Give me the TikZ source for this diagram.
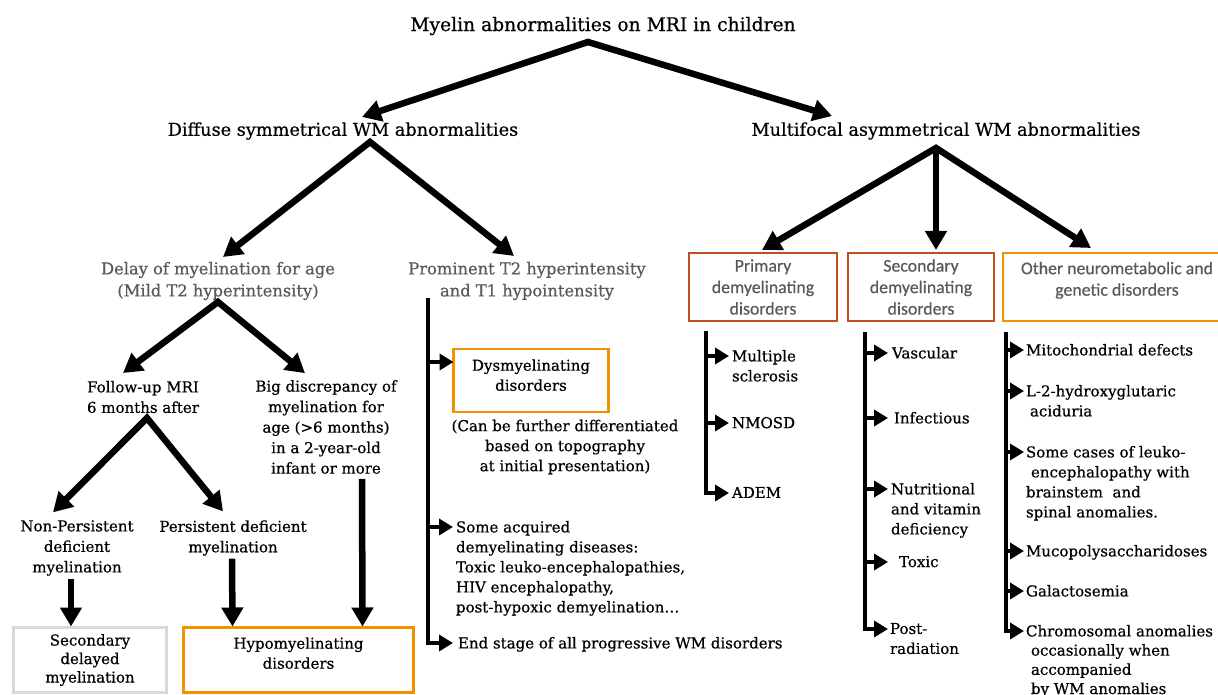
\documentclass[tikz,border=0pt]{standalone}
\usepackage{fontspec}
\setmainfont[FakeBold=0.6]{DejaVu Serif}
\newfontfamily\boxfont[FakeBold=0.5]{Carlito}
\usetikzlibrary{arrows.meta}
\definecolor{redbox}{HTML}{C0501F}
\definecolor{orangebox}{HTML}{F39200}
\definecolor{graybox}{HTML}{D9D9D9}
\definecolor{graytext}{HTML}{595959}
\begin{document}
\begin{tikzpicture}[x=1pt,y=-1pt,
  every node/.style={inner sep=0pt, outer sep=0pt},
  titlefont/.style={font=\fontsize{18.7}{23}\selectfont, align=center},
  head/.style={font=\fontsize{17.7}{22}\selectfont, align=center},
  grayhead/.style={font=\fontsize{16.3}{22}\selectfont, align=center, text=graytext},
  mid/.style={font=\fontsize{15}{20.5}\selectfont, align=center},
  item/.style={font=\fontsize{15}{20}\selectfont, align=left, anchor=north west},
  sbox/.style={draw=redbox, line width=2.5pt, font=\boxfont\fontsize{17.8}{21.5}\selectfont, text=graytext, align=center, minimum height=68pt},
  obox/.style={draw=orangebox, line width=2.5pt, align=center},
  gbox/.style={draw=graybox, line width=2.5pt, align=center},
  arr/.style={line width=6.5pt, -{Triangle[length=19pt,width=21pt]}, line join=miter},
  darr/.style={line width=6.5pt, {Triangle[length=19pt,width=21pt]}-{Triangle[length=19pt,width=21pt]}, line join=miter},
  br/.style={line width=4.5pt, -{Triangle[length=14pt,width=16pt]}, line join=miter},
]
\useasboundingbox (0,0) rectangle (1218,695);

% headings
\node[titlefont] (title) at (603,26) {Myelin abnormalities on MRI in children};
\node[head] (diffuse) at (343,131) {Diffuse symmetrical WM abnormalities};
\node[head] (multi) at (946,131) {Multifocal asymmetrical WM abnormalities};
\node[grayhead] (delay) at (218,281) {Delay of myelination for age\\(Mild T2 hyperintensity)};
\node[grayhead] (prom) at (527,281) {Prominent T2 hyperintensity\\and T1 hypointensity};

% left tree
\node[mid] (follow) at (143,397) {Follow-up MRI\\6 months after};
\node[mid] (big) at (326,427) {Big discrepancy of\\myelination for\\age (>6 months)\\in a 2-year-old\\infant or more};
\node[mid] (nonpers) at (77,548) {Non-Persistent\\deficient\\myelination};
\node[mid] (pers) at (233,538) {Persistent deficient\\myelination};
\node[gbox, font=\fontsize{15}{18.5}\selectfont, minimum width=153pt, minimum height=65pt] (secdel) at (90,660) {Secondary\\delayed\\myelination};
\node[obox, font=\fontsize{15}{20}\selectfont, minimum width=230pt, minimum height=65pt] (hypo) at (298.5,660) {Hypomyelinating\\disorders\\[-6pt]\mbox{}};

% prominent branch
\node[obox, font=\fontsize{15}{20}\selectfont, minimum width=155pt, minimum height=63pt] (dys) at (531,380.5) {Dysmyelinating\\disorders\\[-9pt]\mbox{}};
\node[mid, font=\fontsize{15}{20}\selectfont] (can) at (565,447) {(Can be further differentiated\\based on topography\\at initial presentation)};
\node[item] (acq) at (456,521) {Some acquired\\demyelinating diseases:\\Toxic leuko-encephalopathies,\\HIV encephalopathy,\\post-hypoxic demyelination…};
\node[item] (endst) at (458,637) {End stage of all progressive WM disorders};

% right boxes
\node[sbox, minimum width=148pt] (prim) at (763,287) {Primary\\demyelinating\\disorders};
\node[sbox, minimum width=146pt] (sec) at (921,287) {Secondary\\demyelinating\\disorders};
\node[sbox, draw=orangebox, minimum width=228pt] (oth) at (1117,287) {Other neurometabolic and\\genetic disorders\\[-5pt]\mbox{}};

% primary items
\node[item] (ms) at (732,350) {Multiple\\sclerosis};
\node[item] (nmo) at (732,417) {NMOSD};
\node[item] (adem) at (732,487) {ADEM};
% secondary items
\node[item] (vasc) at (892,347) {Vascular};
\node[item] (inf) at (894,412) {Infectious};
\node[item] (nut) at (891,483) {Nutritional\\and vitamin\\deficiency};
\node[item] (tox) at (899,556) {Toxic};
\node[item] (post) at (890,623) {Post-\\radiation};
% other items
\node[item] (mito) at (1026,344) {Mitochondrial defects};
\node[item] (ltwo) at (1026,385) {L-2-hydroxyglutaric\\\hspace{4pt}aciduria};
\node[item] (leuko) at (1026,446) {Some cases of leuko-\\\hspace{5pt}encephalopathy with\\brainstem\ \ and\\spinal anomalies.};
\node[item] (muco) at (1026,545) {Mucopolysaccharidoses};
\node[item] (galac) at (1026,585) {Galactosemia};
\node[item, font=\fontsize{15}{19.2}\selectfont] (chrom) at (1026,625) {Chromosomal anomalies\\\hspace{5pt}occasionally when\\\hspace{5pt}accompanied\\\hspace{5pt}by WM anomalies};

% main arrows
\draw[darr] ([shift={(19,-14)}]diffuse.center) -- ([shift={(-15,16)}]title.center) -- ([shift={(-114,-15)}]multi.center);
\draw[darr] ([shift={(5,-24)}]delay.center) -- ([shift={(27,11)}]diffuse.center) -- ([shift={(-13,-25)}]prom.center);
\draw[darr] ([shift={(-1,-3)}]prim.north) -- ([shift={(-10,17)}]multi.center) -- ([shift={(-26,-5)}]oth.north);
\draw[arr] ([shift={(-10,17)}]multi.center) -- ([shift={(15,-3)}]sec.north);
\draw[darr] ([shift={(-20,-24)}]follow.center) -- ([shift={(0,21)}]delay.center) -- ([shift={(-21,-7)}]big.north);
\draw[darr] ([shift={(-24,-8)}]nonpers.north) -- ([shift={(4,21)}]follow.center) -- ([shift={(-10,-9)}]pers.north);
\draw[arr] ([shift={(-6,3)}]nonpers.south) -- ([shift={(-19,-1)}]secdel.north);
\draw[arr] ([shift={(-1,3)}]pers.south) -- ([shift={(-66,-1)}]hypo.north);
\draw[arr] ([shift={(36,5)}]big.south) -- ([shift={(64,-1)}]hypo.north);

% branch coordinates
\coordinate (ptop) at ([shift={(-99,17)}]prom.center);
\coordinate (prtop) at ([shift={(-57,10)}]prim.south);
\coordinate (setop) at ([shift={(-56,11)}]sec.south);
\coordinate (ottop) at ([shift={(-111,11)}]oth.south);

\coordinate (dysin) at ([yshift=18.5pt]dys.west);
\coordinate (acqin) at ([shift={(-3,6)}]acq.north west);
\coordinate (endin) at ([shift={(-5,6)}]endst.north west);
\coordinate (msin) at ([shift={(-3,6)}]ms.north west);
\coordinate (nmoin) at ([shift={(-3,6)}]nmo.north west);
\coordinate (ademin) at ([shift={(-3,6)}]adem.north west);
\coordinate (vascin) at ([shift={(-4,6)}]vasc.north west);
\coordinate (infin) at ([shift={(-6,6)}]inf.north west);
\coordinate (nutin) at ([shift={(-3,6)}]nut.north west);
\coordinate (toxin) at ([shift={(-11,6)}]tox.north west);
\coordinate (postin) at ([shift={(-2,6)}]post.north west);
\coordinate (mitoin) at ([shift={(-2,6)}]mito.north west);
\coordinate (ltwoin) at ([shift={(-2,6)}]ltwo.north west);
\coordinate (leukoin) at ([shift={(-2,6)}]leuko.north west);
\coordinate (mucoin) at ([shift={(-2,6)}]muco.north west);
\coordinate (galacin) at ([shift={(-2,6)}]galac.north west);
\coordinate (chromin) at ([shift={(-2,6)}]chrom.north west);

% prominent branch arrows
\draw[br] (ptop) |- (endin);
\draw[br] (ptop |- dysin) -- (dysin);
\draw[br] (ptop |- acqin) -- (acqin);
% primary
\draw[br] (prtop) |- (ademin);
\draw[br] (prtop |- msin) -- (msin);
\draw[br] (prtop |- nmoin) -- (nmoin);
% secondary
\draw[br] (setop) |- (postin);
\draw[br] (setop |- vascin) -- (vascin);
\draw[br] (setop |- infin) -- (infin);
\draw[br] (setop |- nutin) -- (nutin);
\draw[br] (setop |- toxin) -- (toxin);
% other
\draw[br] (ottop) |- (chromin);
\draw[br] (ottop |- mitoin) -- (mitoin);
\draw[br] (ottop |- ltwoin) -- (ltwoin);
\draw[br] (ottop |- leukoin) -- (leukoin);
\draw[br] (ottop |- mucoin) -- (mucoin);
\draw[br] (ottop |- galacin) -- (galacin);
\end{tikzpicture}
\end{document}
